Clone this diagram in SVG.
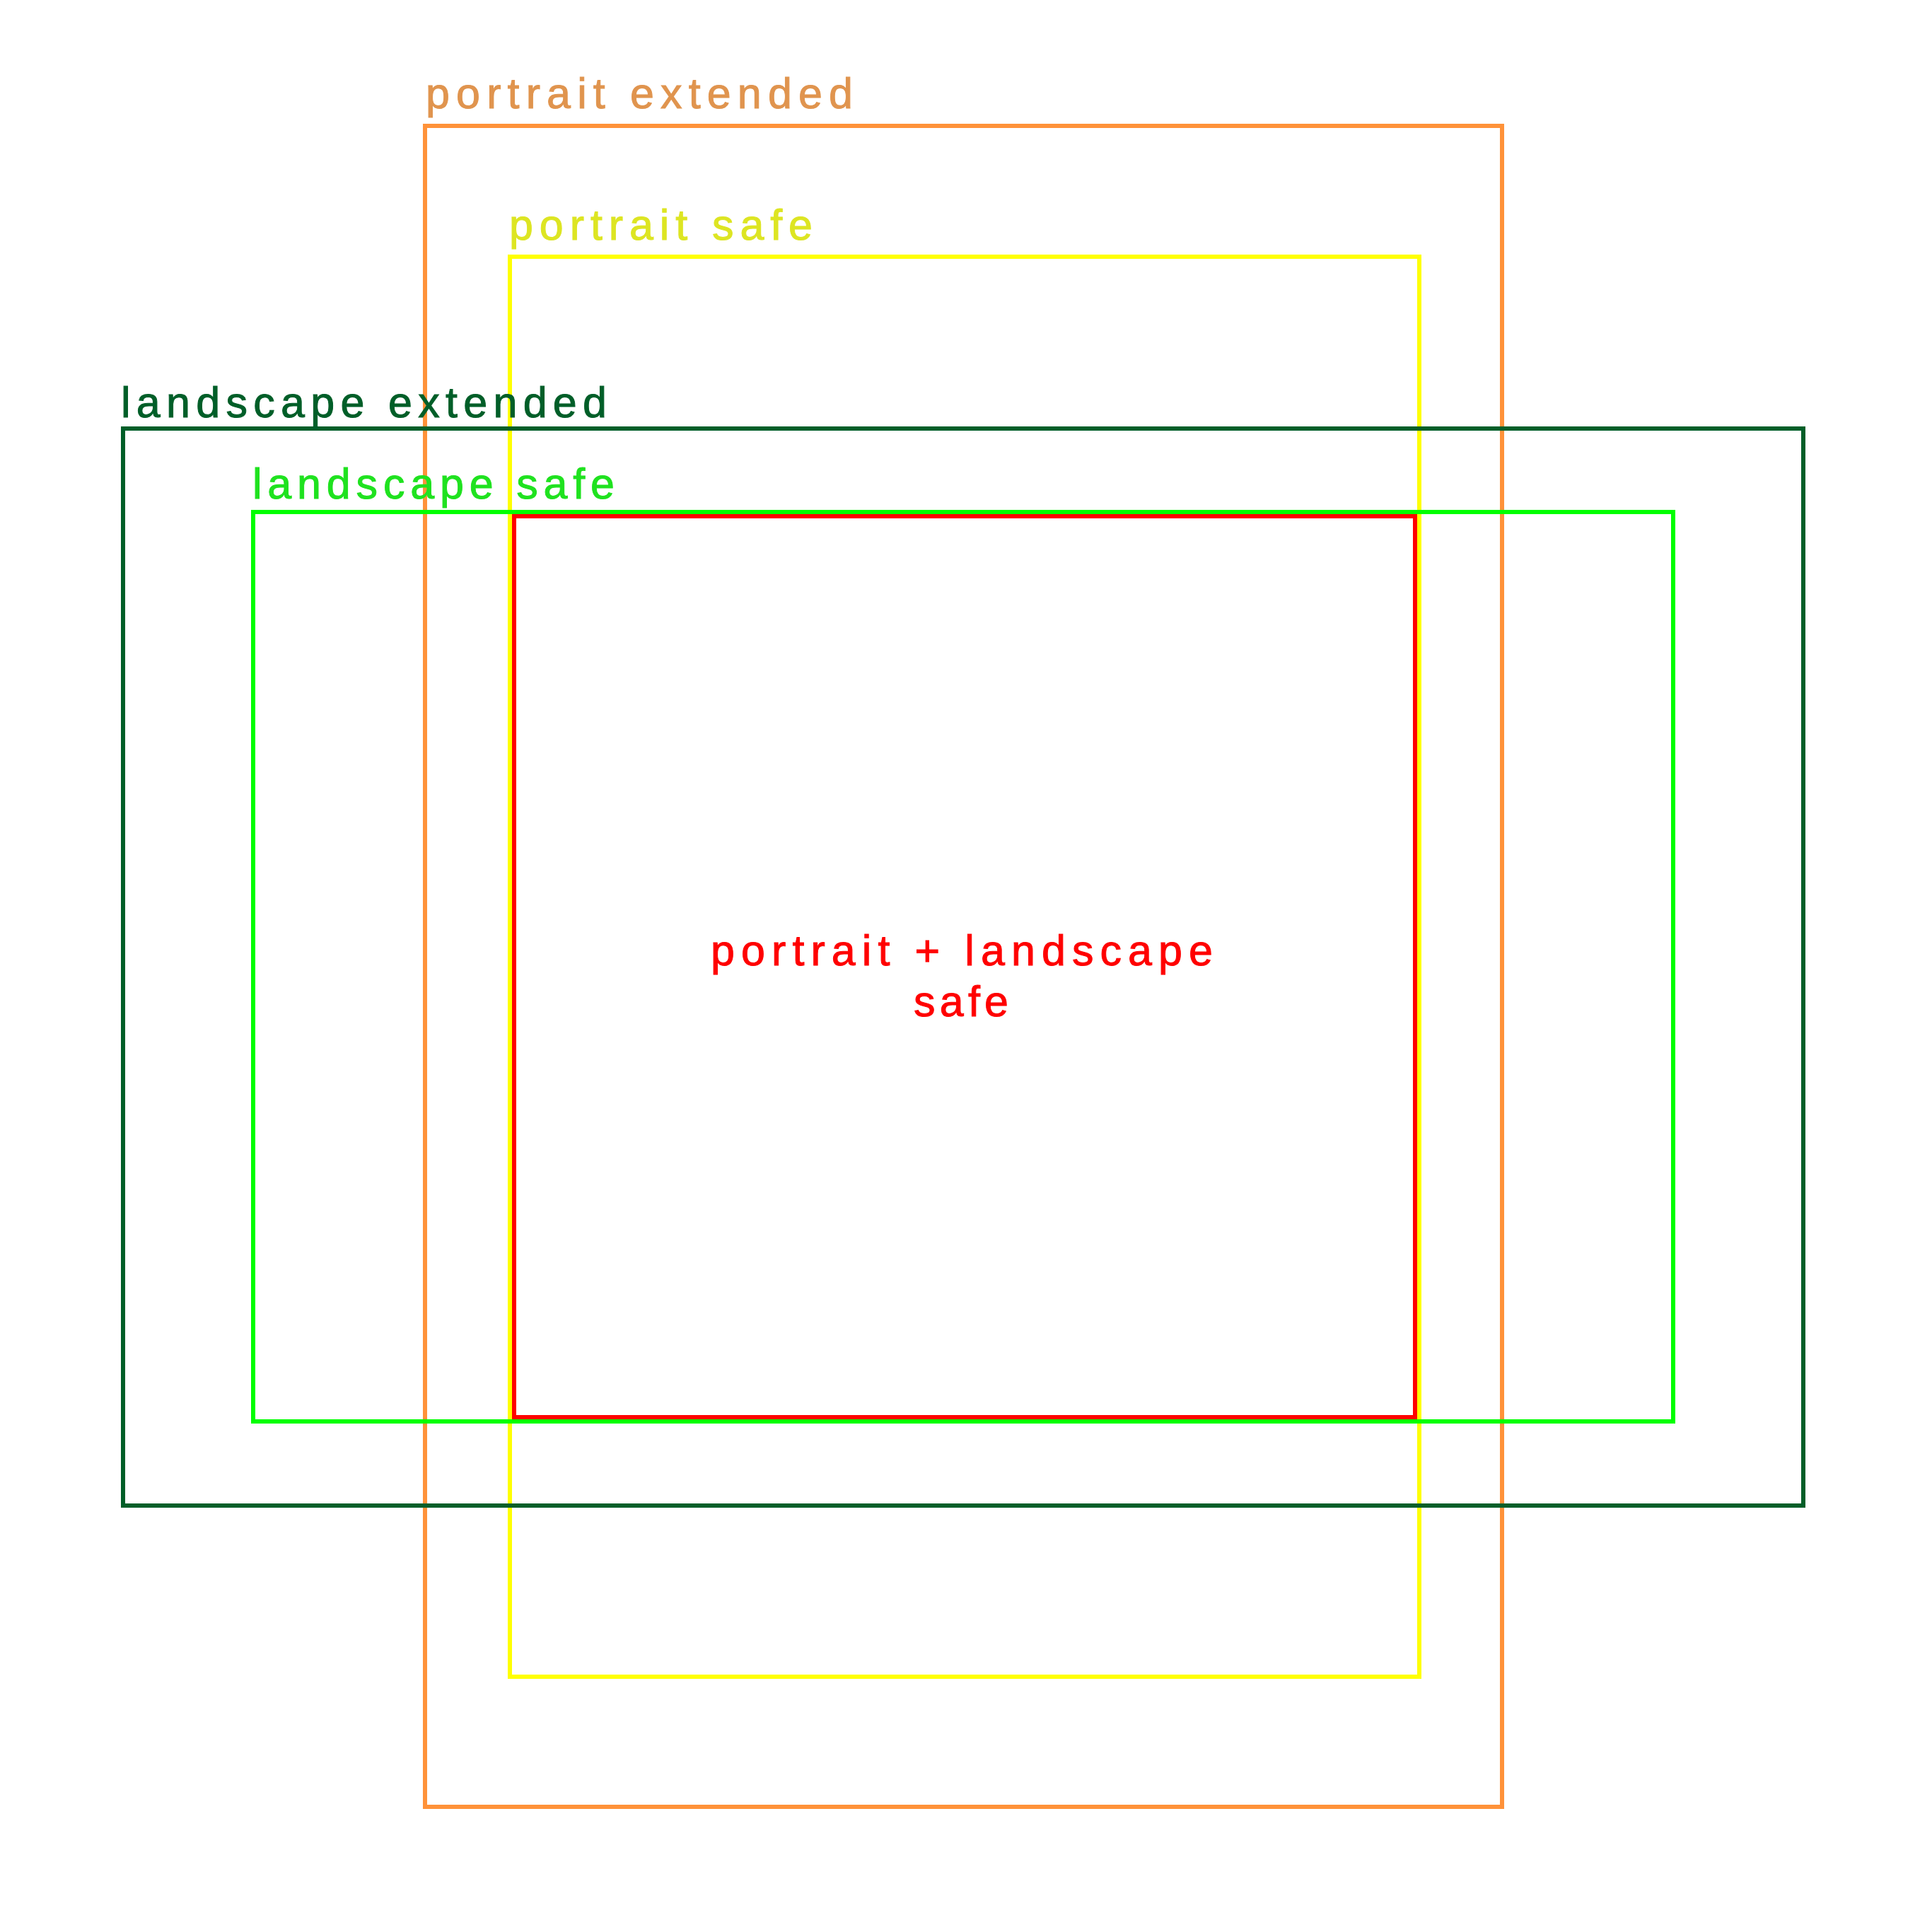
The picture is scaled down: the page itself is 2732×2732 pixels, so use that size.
<svg xmlns="http://www.w3.org/2000/svg" width="2732" height="2732" viewBox="0 0 2732 2732">
<style>
rect.frame{fill:none;stroke-width:6}
text{font-family:"Liberation Sans",Arial,sans-serif;font-size:61px;stroke-width:1;paint-order:stroke}
</style>
<rect width="2732" height="2732" fill="#ffffff"/>
<g id="portrait-extended">
<rect class="frame" x="601" y="178" width="1523" height="2377" stroke="#FF9239"/>
<text x="602" y="153" fill="#E0944E" stroke="#E0944E" textLength="604" lengthAdjust="spacing">portrait extended</text>
</g>
<g id="portrait-safe">
<rect class="frame" x="721" y="363" width="1286" height="2008" stroke="#FFFF00"/>
<text x="720" y="339" fill="#DDE522" stroke="#DDE522" textLength="429" lengthAdjust="spacing">portrait safe</text>
</g>
<g id="landscape-extended">
<rect class="frame" x="174" y="606" width="2376" height="1523" stroke="#005E28"/>
<text x="171" y="590" fill="#005E28" stroke="#005E28" textLength="687" lengthAdjust="spacing">landscape extended</text>
</g>
<g id="landscape-safe">
<rect class="frame" x="358" y="724" width="2008" height="1286" stroke="#00FF00"/>
<text x="357" y="705" fill="#1FE21F" stroke="#1FE21F" textLength="512" lengthAdjust="spacing">landscape safe</text>
</g>
<g id="portrait-landscape-safe">
<rect class="frame" x="727" y="730" width="1274" height="1274" stroke="#FF0000"/>
<text x="1005" y="1365" fill="#FF0000" stroke="#FF0000" textLength="710" lengthAdjust="spacing">portrait + landscape</text>
<text x="1292" y="1437" fill="#FF0000" stroke="#FF0000" textLength="134" lengthAdjust="spacing">safe</text>
</g>
<g id="connectors"></g>
</svg>
